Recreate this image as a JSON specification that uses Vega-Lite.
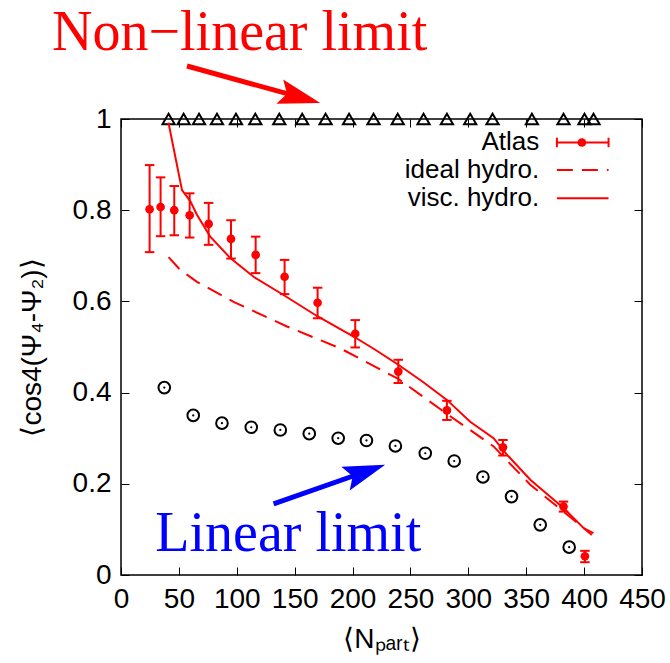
{
  "$schema": "https://vega.github.io/schema/vega-lite/v6.json",
  "width": 521,
  "height": 456,
  "autosize": {"type": "none"},
  "padding": {"left": 121, "top": 119, "right": 28, "bottom": 88},
  "background": "white",
  "config": {
    "view": {"stroke": "black", "strokeWidth": 1.5},
    "axis": {
      "domain": false, "grid": false, "ticks": true, "tickColor": "black", "tickWidth": 1, "tickSize": -8,
      "labelFont": "Liberation Sans", "labelFontSize": 28, "labelColor": "black", "labelPadding": 18, "labelOverlap": false, "labelFlush": false,
      "titleFont": "Liberation Sans", "titleFontSize": 28, "titleFontWeight": "normal", "titleColor": "black"
    }
  },
  "resolve": {"axis": {"x": "independent", "y": "independent"}},
  "datasets": {
    "atlas": [
      {"npart": 24.7, "v": 0.802, "lo": 0.708, "hi": 0.899},
      {"npart": 34.2, "v": 0.807, "lo": 0.743, "hi": 0.872},
      {"npart": 46.0, "v": 0.800, "lo": 0.745, "hi": 0.853},
      {"npart": 59.3, "v": 0.789, "lo": 0.740, "hi": 0.837},
      {"npart": 75.7, "v": 0.770, "lo": 0.724, "hi": 0.816},
      {"npart": 95.0, "v": 0.737, "lo": 0.694, "hi": 0.778},
      {"npart": 116.3, "v": 0.702, "lo": 0.662, "hi": 0.742},
      {"npart": 141.3, "v": 0.654, "lo": 0.616, "hi": 0.691},
      {"npart": 169.8, "v": 0.597, "lo": 0.563, "hi": 0.630},
      {"npart": 202.3, "v": 0.529, "lo": 0.499, "hi": 0.559},
      {"npart": 239.5, "v": 0.446, "lo": 0.421, "hi": 0.472},
      {"npart": 281.5, "v": 0.361, "lo": 0.340, "hi": 0.382},
      {"npart": 329.9, "v": 0.280, "lo": 0.262, "hi": 0.296},
      {"npart": 382.2, "v": 0.150, "lo": 0.139, "hi": 0.161},
      {"npart": 400.7, "v": 0.041, "lo": 0.028, "hi": 0.053}
    ],
    "visc": [
      {"npart": 41.0, "v": 0.992}, {"npart": 52.7, "v": 0.844}, {"npart": 59.8, "v": 0.820},
      {"npart": 65.6, "v": 0.790}, {"npart": 77.1, "v": 0.742}, {"npart": 94.4, "v": 0.695},
      {"npart": 114.5, "v": 0.654}, {"npart": 140.4, "v": 0.614}, {"npart": 169.2, "v": 0.568},
      {"npart": 200.9, "v": 0.523}, {"npart": 219.6, "v": 0.494}, {"npart": 239.5, "v": 0.461},
      {"npart": 260.0, "v": 0.425}, {"npart": 281.5, "v": 0.384}, {"npart": 301.6, "v": 0.336},
      {"npart": 321.8, "v": 0.300}, {"npart": 333.3, "v": 0.264}, {"npart": 353.5, "v": 0.209},
      {"npart": 382.2, "v": 0.147}, {"npart": 399.5, "v": 0.103}, {"npart": 408.1, "v": 0.092}
    ],
    "ideal": [
      {"npart": 41.1, "v": 0.697}, {"npart": 51.2, "v": 0.669}, {"npart": 65.6, "v": 0.643},
      {"npart": 97.2, "v": 0.599}, {"npart": 143.4, "v": 0.545}, {"npart": 189.4, "v": 0.497},
      {"npart": 239.5, "v": 0.430}, {"npart": 284.4, "v": 0.348}, {"npart": 301.6, "v": 0.318},
      {"npart": 321.8, "v": 0.282}, {"npart": 353.5, "v": 0.198}, {"npart": 382.2, "v": 0.139},
      {"npart": 406.7, "v": 0.088}
    ],
    "linear": [
      {"npart": 37.4, "v": 0.411}, {"npart": 62.4, "v": 0.350}, {"npart": 87.2, "v": 0.333},
      {"npart": 112.5, "v": 0.324}, {"npart": 137.6, "v": 0.318}, {"npart": 162.6, "v": 0.310},
      {"npart": 187.6, "v": 0.300}, {"npart": 212.0, "v": 0.295}, {"npart": 237.0, "v": 0.283},
      {"npart": 262.8, "v": 0.267}, {"npart": 287.8, "v": 0.250}, {"npart": 312.6, "v": 0.215},
      {"npart": 337.3, "v": 0.172}, {"npart": 362.1, "v": 0.110}, {"npart": 387.1, "v": 0.061}
    ],
    "nonlinear": [
      {"npart": 41.1, "v": 1}, {"npart": 54.1, "v": 1}, {"npart": 67.4, "v": 1}, {"npart": 82.9, "v": 1},
      {"npart": 99.3, "v": 1}, {"npart": 116.0, "v": 1}, {"npart": 136.7, "v": 1}, {"npart": 156.5, "v": 1},
      {"npart": 176.7, "v": 1}, {"npart": 197.0, "v": 1}, {"npart": 218.1, "v": 1}, {"npart": 239.0, "v": 1},
      {"npart": 261.3, "v": 1}, {"npart": 281.5, "v": 1}, {"npart": 301.6, "v": 1}, {"npart": 320.9, "v": 1},
      {"npart": 354.9, "v": 1}, {"npart": 382.2, "v": 1}, {"npart": 400.3, "v": 1}, {"npart": 408.1, "v": 1}
    ]
  },
  "layer": [
    {
      "data": {"name": "linear"},
      "mark": {"type": "point", "shape": "circle", "filled": false, "stroke": "black", "strokeWidth": 2, "size": 135, "opacity": 1},
      "encoding": {
        "x": {"field": "npart", "type": "quantitative", "scale": {"domain": [0, 450], "nice": false, "zero": false},
              "axis": {"orient": "bottom", "values": [0, 50, 100, 150, 200, 250, 300, 350, 400, 450], "title": "⟨Nₚₐᵣₜ⟩", "titlePadding": 12}},
        "y": {"field": "v", "type": "quantitative", "scale": {"domain": [0, 1], "nice": false, "zero": false},
              "axis": {"orient": "left", "values": [0, 0.2, 0.4, 0.6, 0.8, 1], "format": "~g", "title": "⟨cos4(Ψ₄-Ψ₂)⟩", "titlePadding": 26}}
      }
    },
    {
      "data": {"name": "linear"},
      "mark": {"type": "point", "shape": "circle", "filled": true, "color": "black", "size": 5, "opacity": 1},
      "encoding": {
        "x": {"field": "npart", "type": "quantitative", "scale": {"domain": [0, 450], "nice": false, "zero": false}, "axis": null},
        "y": {"field": "v", "type": "quantitative", "scale": {"domain": [0, 1], "nice": false, "zero": false}, "axis": null}
      }
    },
    {
      "data": {"name": "nonlinear"},
      "mark": {"type": "point", "shape": "triangle-up", "filled": false, "stroke": "black", "strokeWidth": 2, "size": 150, "opacity": 1},
      "encoding": {
        "x": {"field": "npart", "type": "quantitative", "scale": {"domain": [0, 450], "nice": false, "zero": false},
              "axis": {"orient": "top", "values": [0, 50, 100, 150, 200, 250, 300, 350, 400, 450], "labels": false, "title": null}},
        "y": {"field": "v", "type": "quantitative", "scale": {"domain": [0, 1], "nice": false, "zero": false},
              "axis": {"orient": "right", "values": [0, 0.2, 0.4, 0.6, 0.8, 1], "labels": false, "title": null}}
      }
    },
    {
      "data": {"name": "visc"},
      "mark": {"type": "line", "color": "red", "strokeWidth": 2},
      "encoding": {
        "x": {"field": "npart", "type": "quantitative", "scale": {"domain": [0, 450], "nice": false, "zero": false}, "axis": null},
        "y": {"field": "v", "type": "quantitative", "scale": {"domain": [0, 1], "nice": false, "zero": false}, "axis": null}
      }
    },
    {
      "data": {"name": "ideal"},
      "mark": {"type": "line", "color": "red", "strokeWidth": 2, "strokeDash": [16, 9]},
      "encoding": {
        "x": {"field": "npart", "type": "quantitative", "scale": {"domain": [0, 450], "nice": false, "zero": false}, "axis": null},
        "y": {"field": "v", "type": "quantitative", "scale": {"domain": [0, 1], "nice": false, "zero": false}, "axis": null}
      }
    },
    {
      "data": {"name": "atlas"},
      "mark": {"type": "rule", "color": "red", "strokeWidth": 2},
      "encoding": {
        "x": {"field": "npart", "type": "quantitative", "scale": {"domain": [0, 450], "nice": false, "zero": false}, "axis": null},
        "y": {"field": "lo", "type": "quantitative", "scale": {"domain": [0, 1], "nice": false, "zero": false}, "axis": null},
        "y2": {"field": "hi"}
      }
    },
    {
      "data": {"name": "atlas"},
      "mark": {"type": "point", "shape": "stroke", "stroke": "red", "strokeWidth": 2, "size": 90, "opacity": 1},
      "encoding": {
        "x": {"field": "npart", "type": "quantitative", "scale": {"domain": [0, 450], "nice": false, "zero": false}, "axis": null},
        "y": {"field": "lo", "type": "quantitative", "scale": {"domain": [0, 1], "nice": false, "zero": false}, "axis": null}
      }
    },
    {
      "data": {"name": "atlas"},
      "mark": {"type": "point", "shape": "stroke", "stroke": "red", "strokeWidth": 2, "size": 90, "opacity": 1},
      "encoding": {
        "x": {"field": "npart", "type": "quantitative", "scale": {"domain": [0, 450], "nice": false, "zero": false}, "axis": null},
        "y": {"field": "hi", "type": "quantitative", "scale": {"domain": [0, 1], "nice": false, "zero": false}, "axis": null}
      }
    },
    {
      "data": {"name": "atlas"},
      "mark": {"type": "point", "shape": "circle", "filled": true, "color": "red", "size": 75, "opacity": 1},
      "encoding": {
        "x": {"field": "npart", "type": "quantitative", "scale": {"domain": [0, 450], "nice": false, "zero": false}, "axis": null},
        "y": {"field": "v", "type": "quantitative", "scale": {"domain": [0, 1], "nice": false, "zero": false}, "axis": null}
      }
    },
    {
      "data": {"values": [
        {"label": "Atlas", "lx": 361.2, "ly": 0.9485},
        {"label": "ideal hydro.", "lx": 361.2, "ly": 0.888},
        {"label": "visc. hydro.", "lx": 361.2, "ly": 0.826}
      ]},
      "mark": {"type": "text", "align": "right", "baseline": "middle", "font": "Liberation Sans", "fontSize": 26, "color": "black"},
      "encoding": {
        "x": {"field": "lx", "type": "quantitative", "scale": {"domain": [0, 450], "nice": false, "zero": false}, "axis": null},
        "y": {"field": "ly", "type": "quantitative", "scale": {"domain": [0, 1], "nice": false, "zero": false}, "axis": null},
        "text": {"field": "label"}
      }
    },
    {
      "data": {"values": [{"x1": 376.5, "x2": 421.1, "ly": 0.9485}, {"x1": 376.5, "x2": 421.1, "ly": 0.826}]},
      "mark": {"type": "rule", "color": "red", "strokeWidth": 2},
      "encoding": {
        "x": {"field": "x1", "type": "quantitative", "scale": {"domain": [0, 450], "nice": false, "zero": false}, "axis": null},
        "x2": {"field": "x2"},
        "y": {"field": "ly", "type": "quantitative", "scale": {"domain": [0, 1], "nice": false, "zero": false}, "axis": null}
      }
    },
    {
      "data": {"values": [{"x1": 376.5, "x2": 421.1, "ly": 0.888}]},
      "mark": {"type": "rule", "color": "red", "strokeWidth": 2, "strokeDash": [16, 9]},
      "encoding": {
        "x": {"field": "x1", "type": "quantitative", "scale": {"domain": [0, 450], "nice": false, "zero": false}, "axis": null},
        "x2": {"field": "x2"},
        "y": {"field": "ly", "type": "quantitative", "scale": {"domain": [0, 1], "nice": false, "zero": false}, "axis": null}
      }
    },
    {
      "data": {"values": [{"lx": 376.5, "ly": 0.9485}, {"lx": 421.1, "ly": 0.9485}]},
      "mark": {"type": "point", "shape": "stroke", "angle": 90, "stroke": "red", "strokeWidth": 2, "size": 90, "opacity": 1},
      "encoding": {
        "x": {"field": "lx", "type": "quantitative", "scale": {"domain": [0, 450], "nice": false, "zero": false}, "axis": null},
        "y": {"field": "ly", "type": "quantitative", "scale": {"domain": [0, 1], "nice": false, "zero": false}, "axis": null}
      }
    },
    {
      "data": {"values": [{"lx": 398.1, "ly": 0.9485}]},
      "mark": {"type": "point", "shape": "circle", "filled": true, "color": "red", "size": 75, "opacity": 1},
      "encoding": {
        "x": {"field": "lx", "type": "quantitative", "scale": {"domain": [0, 450], "nice": false, "zero": false}, "axis": null},
        "y": {"field": "ly", "type": "quantitative", "scale": {"domain": [0, 1], "nice": false, "zero": false}, "axis": null}
      }
    },
    {
      "data": {"values": [
        {"arrow": "nonlinear", "ax": 57.0, "ay": 1.1163},
        {"arrow": "nonlinear", "ax": 151.3, "ay": 1.050},
        {"arrow": "linear", "ax": 131.8, "ay": 0.1562},
        {"arrow": "linear", "ax": 207.9, "ay": 0.2237}
      ]},
      "mark": {"type": "line", "strokeWidth": 5, "strokeCap": "butt"},
      "encoding": {
        "x": {"field": "ax", "type": "quantitative", "scale": {"domain": [0, 450], "nice": false, "zero": false}, "axis": null},
        "y": {"field": "ay", "type": "quantitative", "scale": {"domain": [0, 1], "nice": false, "zero": false}, "axis": null},
        "detail": {"field": "arrow"},
        "color": {"field": "arrow", "type": "nominal", "scale": {"domain": ["nonlinear", "linear"], "range": ["red", "blue"]}, "legend": null}
      }
    },
    {
      "data": {"values": [{"ax": 172.1, "ay": 1.0353}]},
      "mark": {"type": "point", "shape": "M0,0L-1,-0.3L-0.82,0L-1,0.3Z", "filled": true, "color": "red", "size": 7056, "angle": 15.5, "opacity": 1},
      "encoding": {
        "x": {"field": "ax", "type": "quantitative", "scale": {"domain": [0, 450], "nice": false, "zero": false}, "axis": null},
        "y": {"field": "ay", "type": "quantitative", "scale": {"domain": [0, 1], "nice": false, "zero": false}, "axis": null}
      }
    },
    {
      "data": {"values": [{"ax": 228.2, "ay": 0.2416}]},
      "mark": {"type": "point", "shape": "M0,0L-1,-0.3L-0.82,0L-1,0.3Z", "filled": true, "color": "blue", "size": 7056, "angle": 340.8, "opacity": 1},
      "encoding": {
        "x": {"field": "ax", "type": "quantitative", "scale": {"domain": [0, 450], "nice": false, "zero": false}, "axis": null},
        "y": {"field": "ay", "type": "quantitative", "scale": {"domain": [0, 1], "nice": false, "zero": false}, "axis": null}
      }
    },
    {
      "data": {"values": [
        {"note": "Non−linear limit", "tx": -59.6, "ty": 1.152, "kind": "nonlinear"},
        {"note": "Linear limit", "tx": 29.6, "ty": 0.0517, "kind": "linear"}
      ]},
      "mark": {"type": "text", "align": "left", "baseline": "alphabetic", "font": "Liberation Serif", "fontSize": 56},
      "encoding": {
        "x": {"field": "tx", "type": "quantitative", "scale": {"domain": [0, 450], "nice": false, "zero": false}, "axis": null},
        "y": {"field": "ty", "type": "quantitative", "scale": {"domain": [0, 1], "nice": false, "zero": false}, "axis": null},
        "text": {"field": "note"},
        "color": {"field": "kind", "type": "nominal", "scale": {"domain": ["nonlinear", "linear"], "range": ["red", "blue"]}, "legend": null}
      }
    }
  ]
}
